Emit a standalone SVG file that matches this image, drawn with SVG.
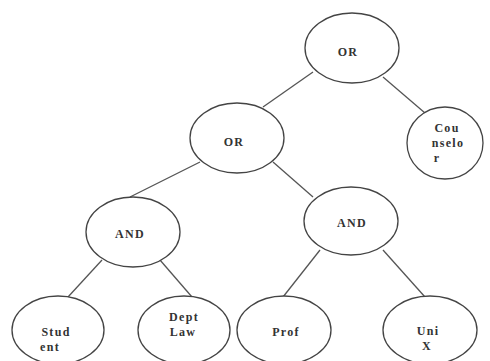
<svg xmlns="http://www.w3.org/2000/svg" width="490" height="361" viewBox="0 0 490 361">
<style>
.n{fill:#fff;stroke:#444;stroke-width:1.3}
.t{font-family:"Liberation Serif",serif;font-weight:bold;font-size:12px;fill:#333;text-anchor:middle;letter-spacing:1.3px}
.c{stroke:#555;stroke-width:1.3;fill:none}
</style>
<rect width="490" height="361" fill="#fff"/>
<g id="connectors">
<line class="c" x1="313" y1="72" x2="263" y2="107"/>
<line class="c" x1="383" y1="77" x2="425" y2="113"/>
<line class="c" x1="200" y1="162" x2="130" y2="197"/>
<line class="c" x1="273" y1="162" x2="313" y2="197"/>
<line class="c" x1="102" y1="260" x2="68" y2="297"/>
<line class="c" x1="160" y1="260" x2="192" y2="297"/>
<line class="c" x1="320" y1="250" x2="283" y2="297"/>
<line class="c" x1="383" y1="250" x2="425" y2="297"/>
</g>
<g id="or-top"><ellipse class="n" cx="352" cy="48" rx="47" ry="35"/><text class="t" x="348" y="56">OR</text></g>
<g id="counselor"><ellipse class="n" cx="445" cy="143" rx="38" ry="36"/><text class="t" x="447" y="132">Cou</text><text class="t" x="448" y="147">nselo</text><text class="t" x="437" y="162">r</text></g>
<g id="or-mid"><ellipse class="n" cx="237" cy="138" rx="47" ry="35"/><text class="t" x="234" y="146">OR</text></g>
<g id="and-left"><ellipse class="n" cx="133" cy="232" rx="47" ry="35"/><text class="t" x="130" y="238">AND</text></g>
<g id="and-right"><ellipse class="n" cx="351" cy="221" rx="47" ry="34"/><text class="t" x="352" y="227">AND</text></g>
<g id="student"><ellipse class="n" cx="58" cy="330" rx="46" ry="34"/><text class="t" x="56" y="336">Stud</text><text class="t" x="50" y="351">ent</text></g>
<g id="dept-law"><ellipse class="n" cx="184" cy="330" rx="46" ry="34"/><text class="t" x="184" y="321">Dept</text><text class="t" x="183" y="336">Law</text></g>
<g id="prof"><ellipse class="n" cx="284" cy="330" rx="47" ry="34"/><text class="t" x="286" y="336">Prof</text></g>
<g id="uni-x"><ellipse class="n" cx="430" cy="330" rx="47" ry="34"/><text class="t" x="428" y="335">Uni</text><text class="t" x="427" y="350">X</text></g>
</svg>
